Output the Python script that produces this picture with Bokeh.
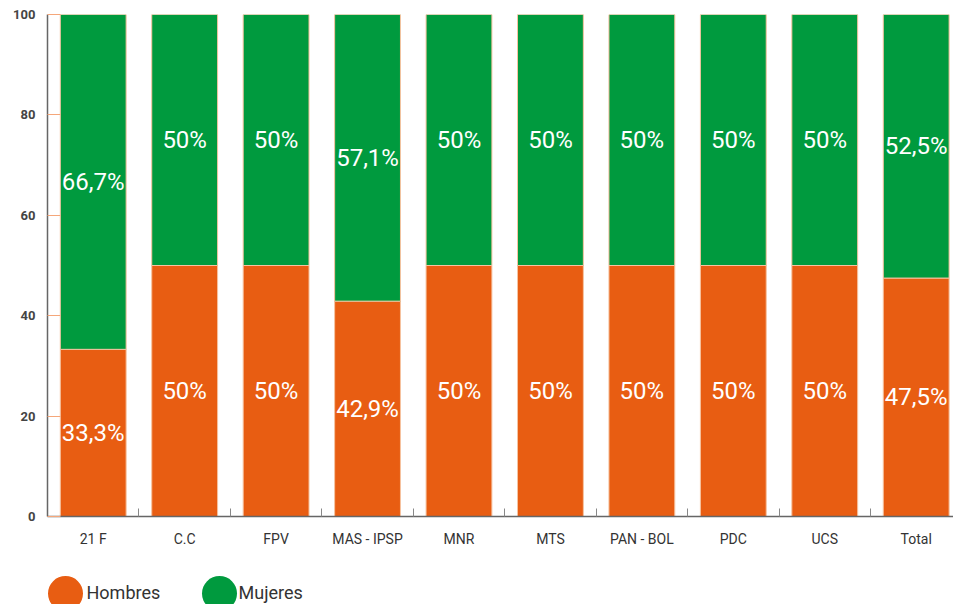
from bokeh.plotting import figure
from bokeh.models import Range1d, LinearAxis, FixedTicker, ColumnDataSource
from bokeh.layouts import column
from bokeh.core.properties import value
from bokeh.embed import file_html
from bokeh.resources import INLINE

partidos = ["21 F", "C.C", "FPV", "MAS - IPSP", "MNR", "MTS", "PAN - BOL", "PDC", "UCS", "Total"]
hombres = [33.3, 50, 50, 42.9, 50, 50, 50, 50, 50, 47.5]
mujeres = [66.7, 50, 50, 57.1, 50, 50, 50, 50, 50, 52.5]
y_ticks = [0, 20, 40, 60, 80, 100]

NARANJA = "#E85D12"
VERDE = "#009A3E"


def fmt(v):
    s = ("%.1f" % v).rstrip("0").rstrip(".")
    return s.replace(".", ",") + "%"


idx = list(range(len(partidos)))
src = ColumnDataSource(dict(
    x=idx,
    h=hombres,
    top_m=[a + b for a, b in zip(hombres, mujeres)],
    yh=[a / 2 for a in hombres],
    ym=[a + b / 2 for a, b in zip(hombres, mujeres)],
    th=[fmt(v) for v in hombres],
    tm=[fmt(v) for v in mujeres],
))

p = figure(width=953, height=565, output_backend="svg", toolbar_location=None,
           x_range=Range1d(-0.5, len(partidos) - 0.592), y_range=Range1d(0, 100),
           x_axis_location=None, min_border_top=14, min_border_left=47,
           min_border_right=0, min_border_bottom=49)
p.outline_line_color = None
p.grid.grid_line_color = None
p.background_fill_color = "white"
p.border_fill_color = "white"

p.vbar(x="x", top="h", bottom=0, width=0.72, source=src,
       fill_color=NARANJA, line_color="#f6c3a0", line_width=1)
p.vbar(x="x", top="top_m", bottom="h", width=0.72, source=src,
       fill_color=VERDE, line_color="#f6c3a0", line_width=1)

p.text(x="x", y="yh", text="th", source=src, text_align="center", text_baseline="middle",
       text_color="white", text_font=value("Roboto"), text_font_size="24px")
p.text(x="x", y="ym", text="tm", source=src, text_align="center", text_baseline="middle",
       text_color="white", text_font=value("Roboto"), text_font_size="24px")

# y axis
ya = p.yaxis[0]
ya.ticker = FixedTicker(ticks=y_ticks)
ya.axis_line_color = "#666666"
ya.axis_line_width = 1.5
ya.major_tick_in = 13
ya.major_tick_out = 0
ya.major_tick_line_color = "#f5a77a"
ya.minor_tick_line_color = None
ya.major_label_standoff = 12
ya.major_label_text_font = "Roboto"
ya.major_label_text_font_size = "13px"
ya.major_label_text_font_style = "bold"
ya.major_label_text_color = "#444444"

# x axis: tick marks between categories
tick_axis = LinearAxis(ticker=FixedTicker(ticks=[i + 0.5 for i in idx[:-1]]))
tick_axis.axis_line_color = "#666666"
tick_axis.axis_line_width = 1.5
tick_axis.major_tick_in = 8
tick_axis.major_tick_out = 0
tick_axis.major_tick_line_color = "#888888"
tick_axis.minor_tick_line_color = None
tick_axis.major_label_text_font_size = "1px"
tick_axis.major_label_text_alpha = 0
tick_axis.major_label_standoff = 0
p.add_layout(tick_axis, "below")

# x axis: category labels
label_axis = LinearAxis(ticker=FixedTicker(ticks=idx),
                        major_label_overrides={i: n for i, n in zip(idx, partidos)})
label_axis.axis_line_color = None
label_axis.major_tick_line_color = None
label_axis.minor_tick_line_color = None
label_axis.major_label_standoff = 8
label_axis.major_label_text_font = "Roboto"
label_axis.major_label_text_font_size = "14px"
label_axis.major_label_text_color = "#333333"
p.add_layout(label_axis, "below")

# legend strip (its frame is aligned with the chart frame, which starts at x=47)
lg = figure(width=953, height=39, output_backend="svg", toolbar_location=None,
            x_range=Range1d(47, 953), y_range=Range1d(0, 39),
            x_axis_location=None, y_axis_location=None,
            min_border=0)
lg.outline_line_color = None
lg.grid.grid_line_color = None
lg.scatter(x=[65, 219], y=[11, 11], size=35, fill_color=[NARANJA, VERDE], line_color=None)
lg.text(x=[86, 238], y=[12, 12], text=["Hombres", "Mujeres"], text_baseline="middle",
        text_color="#333333", text_font=value("Roboto"), text_font_size="18px")

layout = column(p, lg, spacing=0)
open("out.html", "w").write(file_html(layout, INLINE))
